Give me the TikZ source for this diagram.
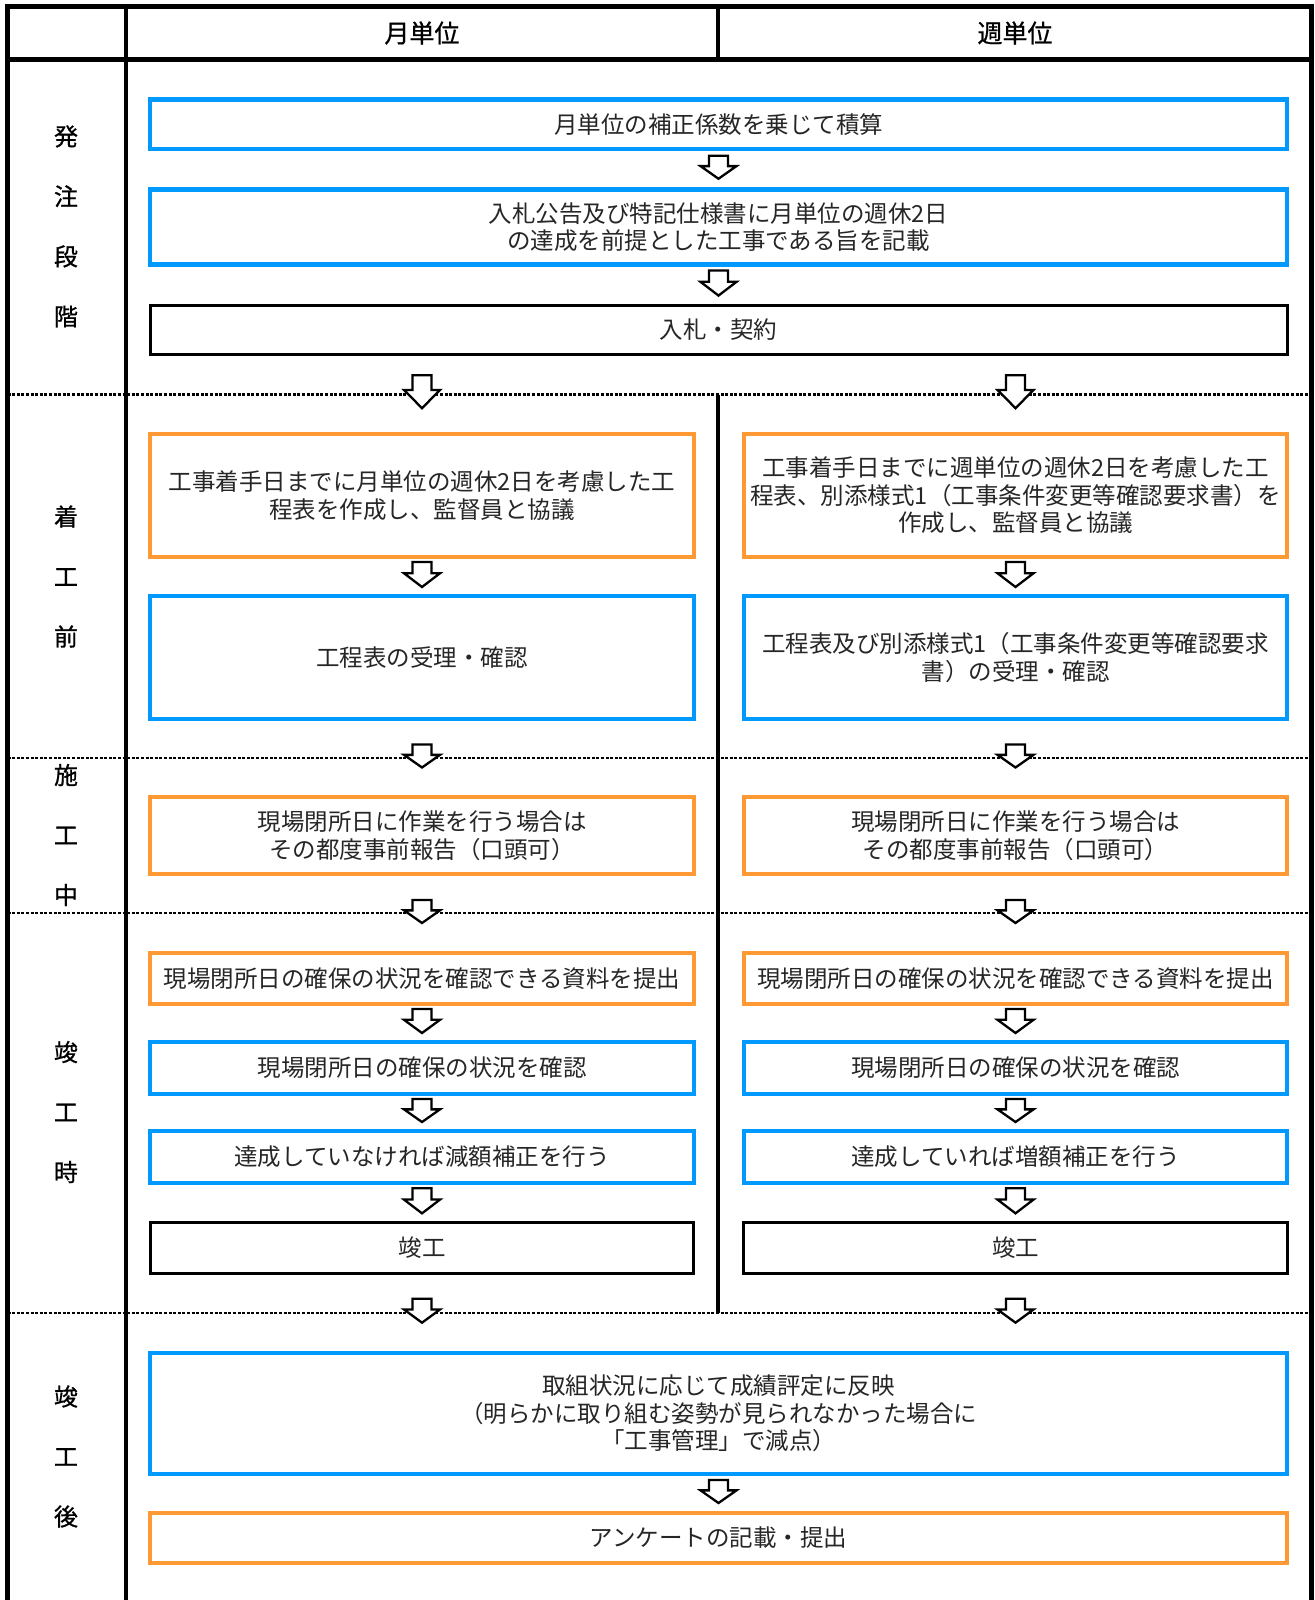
\documentclass[tikz,border=0pt]{standalone}
\usepackage{fontspec}
\newfontfamily\cjk{Noto Sans CJK JP}
\newfontfamily\cjkhead[FakeBold=0.8]{Noto Sans CJK JP}
\usetikzlibrary{calc}
\definecolor{boxblue}{RGB}{0,153,255}
\definecolor{boxorange}{RGB}{255,153,51}
\tikzset{
  nodebox/.style={rectangle, inner sep=0pt, align=center, text=black!85,
    font=\cjk\fontsize{11.75}{13.75}\selectfont},
  bluebox/.style={nodebox, draw=boxblue, line width=2.15pt},
  orangebox/.style={nodebox, draw=boxorange, line width=2.15pt},
  blackbox/.style={nodebox, draw=black, line width=1.5pt},
  widebox/.style={minimum width=568.5pt},
  colbox/.style={minimum width=271.75pt},
  hh/.style={minimum height=#1*0.5pt},
  lab/.style={inner sep=0pt, align=center, font=\cjkhead\fontsize{12}{30}\selectfont},
  headtext/.style={inner sep=0pt, font=\cjkhead\fontsize{12.5}{15}\selectfont},
  frameline/.style={line width=2.5pt, line join=miter},
  gridline/.style={line width=1.6pt},
  dotline/.style={line width=1.15pt, dash pattern=on 1.5pt off 0.8pt},
  arrowline/.style={draw=black, fill=white, line width=1.15pt, line join=miter}
}
% #1 from node, #2 to node, #3 height (px), #4 node giving the x position
\newcommand\blockarrow[4]{%
  \path ($(#1.south)!0.5!(#2.north)$) coordinate (am0);
  \coordinate (am) at (#4.north |- am0);
  \pgfmathsetmacro\ha{#3/2}%
  \pgfmathsetmacro\sh{-0.05*#3}%
  \draw[arrowline, shift={(am)}] (-9.5,-2-\ha) -- (9.5,-2-\ha) -- (9.5,-2+\sh) -- (18,-2+\sh)
    -- (0,-2+\ha) -- (-18,-2+\sh) -- (-9.5,-2+\sh) -- cycle;
}
\begin{document}
\begin{tikzpicture}[x=0.5pt,y=-0.5pt]
\useasboundingbox (0,0) rectangle (1315,1600);
\fill[white] (0,0) rectangle (1315,1600);
% frame
\draw[frameline] (7.5,1610) -- (7.5,6.5) -- (1311,6.5) -- (1311,1610);
\draw[frameline] (7.5,59.5) -- (1311,59.5);
\draw[gridline] (126,6.5) -- (126,1610);
\draw[gridline] (718,6.5) -- (718,59.5);
\draw[gridline] (718,394.5) -- (718,1313);
% dotted separators
\foreach \yy in {394.5,758,913,1313}
  \draw[dotline] (7.5,\yy) -- (1311,\yy);
% headers
\node[headtext] (hmonth) at (422,33) {月単位};
\node[headtext] (hweek) at (1015,33) {週単位};
% phase labels
\node[lab] (p1) at (66,226.4) {発\\注\\段\\階};
\node[lab] (p2) at (66,576.5) {着\\工\\前};
\node[lab] (p3) at (66,835) {施\\工\\中};
\node[lab] (p4) at (66,1112) {竣\\工\\時};
\node[lab] (p5) at (66,1456.5) {竣\\工\\後};
% boxes
\node[bluebox, widebox, hh=49.5] (B1) at (718.5,124.25) {月単位の補正係数を乗じて積算};
\node[bluebox, widebox, hh=75] (B2) at (718.5,227) {入札公告及び特記仕様書に月単位の週休2日\\の達成を前提とした工事である旨を記載};
\node[blackbox, widebox, hh=49] (B3) at (718.5,329.5) {入札・契約};
\node[orangebox, colbox, hh=123] (L1) at (422,495.5) {工事着手日までに月単位の週休2日を考慮した工\\程表を作成し、監督員と協議};
\node[orangebox, colbox, hh=123] (R1) at (1015.5,495.5) {工事着手日までに週単位の週休2日を考慮した工\\程表、別添様式1（工事条件変更等確認要求書）を\\作成し、監督員と協議};
\node[bluebox, colbox, hh=123] (L2) at (422,657.5) {工程表の受理・確認};
\node[bluebox, colbox, hh=123] (R2) at (1015.5,657.5) {工程表及び別添様式1（工事条件変更等確認要求\\書）の受理・確認};
\node[orangebox, colbox, hh=77] (L3) at (422,835.5) {現場閉所日に作業を行う場合は\\その都度事前報告（口頭可）};
\node[orangebox, colbox, hh=77] (R3) at (1015.5,835.5) {現場閉所日に作業を行う場合は\\その都度事前報告（口頭可）};
\node[orangebox, colbox, hh=51] (L4) at (422,978.5) {現場閉所日の確保の状況を確認できる資料を提出};
\node[orangebox, colbox, hh=51] (R4) at (1015.5,978.5) {現場閉所日の確保の状況を確認できる資料を提出};
\node[bluebox, colbox, hh=52] (L5) at (422,1068) {現場閉所日の確保の状況を確認};
\node[bluebox, colbox, hh=52] (R5) at (1015.5,1068) {現場閉所日の確保の状況を確認};
\node[bluebox, colbox, hh=52] (L6) at (422,1157) {達成していなければ減額補正を行う};
\node[bluebox, colbox, hh=52] (R6) at (1015.5,1157) {達成していれば増額補正を行う};
\node[blackbox, colbox, hh=51] (L7) at (422,1247.5) {竣工};
\node[blackbox, colbox, hh=51] (R7) at (1015.5,1247.5) {竣工};
\node[bluebox, widebox, hh=121] (W1) at (718.5,1413.5) {取組状況に応じて成績評定に反映\\（明らかに取り組む姿勢が見られなかった場合に\\「工事管理」で減点）};
\node[orangebox, widebox, hh=50] (W2) at (718.5,1538) {アンケートの記載・提出};
% arrows
\blockarrow{B1}{B2}{23}{B2}
\blockarrow{B2}{B3}{25}{B3}
\blockarrow{B3}{L1}{33}{L1}
\blockarrow{B3}{R1}{33}{R1}
\blockarrow{L1}{L2}{25}{L2}
\blockarrow{R1}{R2}{25}{R2}
\blockarrow{L2}{L3}{23}{L3}
\blockarrow{R2}{R3}{23}{R3}
\blockarrow{L3}{L4}{23}{L4}
\blockarrow{R3}{R4}{23}{R4}
\blockarrow{L4}{L5}{24}{L5}
\blockarrow{R4}{R5}{24}{R5}
\blockarrow{L5}{L6}{23}{L6}
\blockarrow{R5}{R6}{23}{R6}
\blockarrow{L6}{L7}{25}{L7}
\blockarrow{R6}{R7}{25}{R7}
\blockarrow{L7}{W1}{24}{L7}
\blockarrow{R7}{W1}{24}{R7}
\blockarrow{W1}{W2}{23}{W2}
\end{tikzpicture}
\end{document}
